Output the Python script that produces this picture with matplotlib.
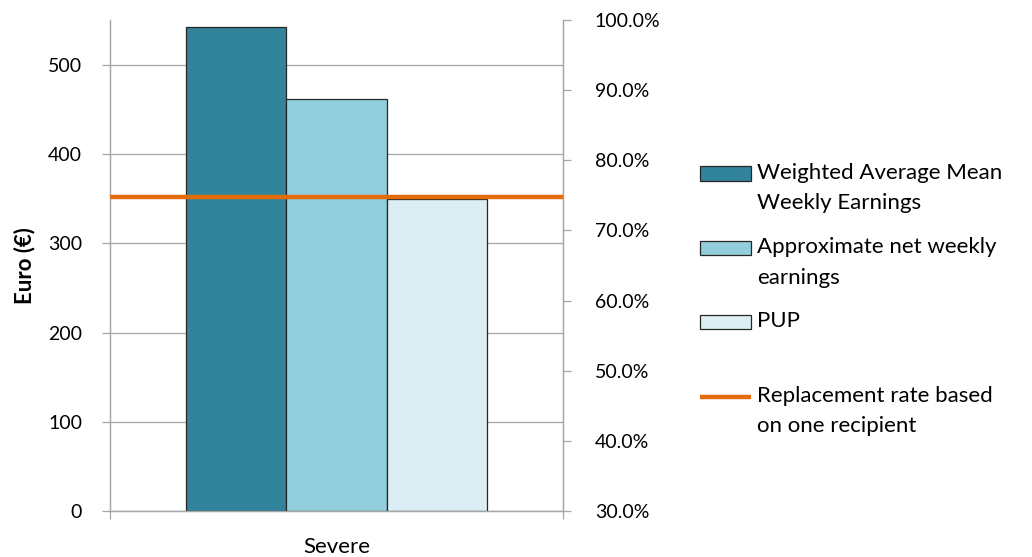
import matplotlib
matplotlib.use("Agg")
import numpy as np
import matplotlib.pyplot as plt
from matplotlib.ticker import FuncFormatter, FixedLocator
from matplotlib.legend_handler import HandlerPatch, HandlerLine2D
from matplotlib.patches import Rectangle

plt.rcParams['font.family'] = ['Lato', 'DejaVu Sans']

categories = ["Severe"]
series_names = ["Weighted Average Mean\nWeekly Earnings",
                "Approximate net weekly\nearnings",
                "PUP"]
series_values = [542.5, 461.5, 350.0]
bar_colors = ["#31849B", "#92CDDC", "#DAEEF3"]
rate_name = "Replacement rate based\non one recipient"
rate_value = [0.748]
left_ticks = [0, 100, 200, 300, 400, 500]
right_ticks = [0.3, 0.4, 0.5, 0.6, 0.7, 0.8, 0.9, 1.0]

W, H = 1032, 557
fig = plt.figure(figsize=(W / 100, H / 100), dpi=100)
ax = fig.add_axes([110 / W, 1 - 511 / H, (563 - 110) / W, (511 - 20) / H])
ax2 = ax.twinx()

gray = "#A6A6A6"
bw = 0.222
bars = []
for i, (name, val, col) in enumerate(zip(series_names, series_values, bar_colors)):
    b = ax.bar(0 + (i - 1) * bw, val, width=bw, color=col, edgecolor="#262626",
               linewidth=0.9, label=name, zorder=3)
    bars.append(b)

ax.set_xlim(-0.5, 0.5)
ax.set_ylim(0, 550.5)
ax.set_yticks(left_ticks)
ax.yaxis.grid(True, color=gray, linewidth=0.9, zorder=0)
ax.set_axisbelow(True)
ax.set_xticks([0])
ax.set_xticklabels(categories)
ax.xaxis.set_minor_locator(FixedLocator([-0.5, 0.5]))
ax.tick_params(axis='x', which='major', length=0, pad=19, labelsize=16, colors="#000000")
ax.tick_params(axis='x', which='minor', length=6, color=gray, width=0.9)
ax.tick_params(axis='y', length=6, color=gray, width=0.9, labelsize=14, pad=14)
ax.set_ylabel("Euro (€)", fontsize=16, fontweight='bold', labelpad=9)

(ln,) = ax2.plot([-0.5, 0.5], [rate_value[0], rate_value[0]], color="#E46C0A",
                 linewidth=3.2, label=rate_name, zorder=5, solid_capstyle='butt')
ax2.set_ylim(0.3, 1.0)
ax2.set_yticks(right_ticks)
ax2.yaxis.set_major_formatter(FuncFormatter(lambda v, p: f"{v*100:.1f}%"))
ax2.tick_params(axis='y', length=6, color=gray, width=0.9, labelsize=14, pad=17)

for a in (ax, ax2):
    a.spines['top'].set_visible(False)
    for s in ('left', 'right', 'bottom'):
        a.spines[s].set_color(gray)
        a.spines[s].set_linewidth(0.9)

# legend: handles aligned with the first line of each (two-line) label
SHIFT = 10.6  # points, half the line pitch


def top_patch(legend, orig_handle, xdescent, ydescent, width, height, fontsize):
    return Rectangle((-xdescent, -ydescent + SHIFT), width, height)


class TopLine(HandlerLine2D):
    def create_artists(self, legend, orig_handle, xdescent, ydescent, width,
                       height, fontsize, trans):
        arts = super().create_artists(legend, orig_handle, xdescent, ydescent,
                                      width, height, fontsize, trans)
        for a in arts:
            a.set_ydata(np.asarray(a.get_ydata()) + SHIFT)
        return arts


handles = [b[0] for b in bars] + [ln]
labels = [n if "\n" in n else n + "\n" for n in series_names] + [rate_name]
hmap = {b[0]: HandlerPatch(patch_func=top_patch) for b in bars}
hmap[ln] = TopLine()
leg = fig.legend(handles=handles, labels=labels, handler_map=hmap,
                 loc='upper left', bbox_to_anchor=(700 / W, 1 - 163 / H),
                 frameon=False, fontsize=16, handlelength=2.3, handleheight=0.62,
                 handletextpad=0.25, labelspacing=1.07, borderaxespad=0, borderpad=0)
for t in leg.get_texts():
    t.set_linespacing(1.65)

fig.savefig("out.png", dpi=100)
